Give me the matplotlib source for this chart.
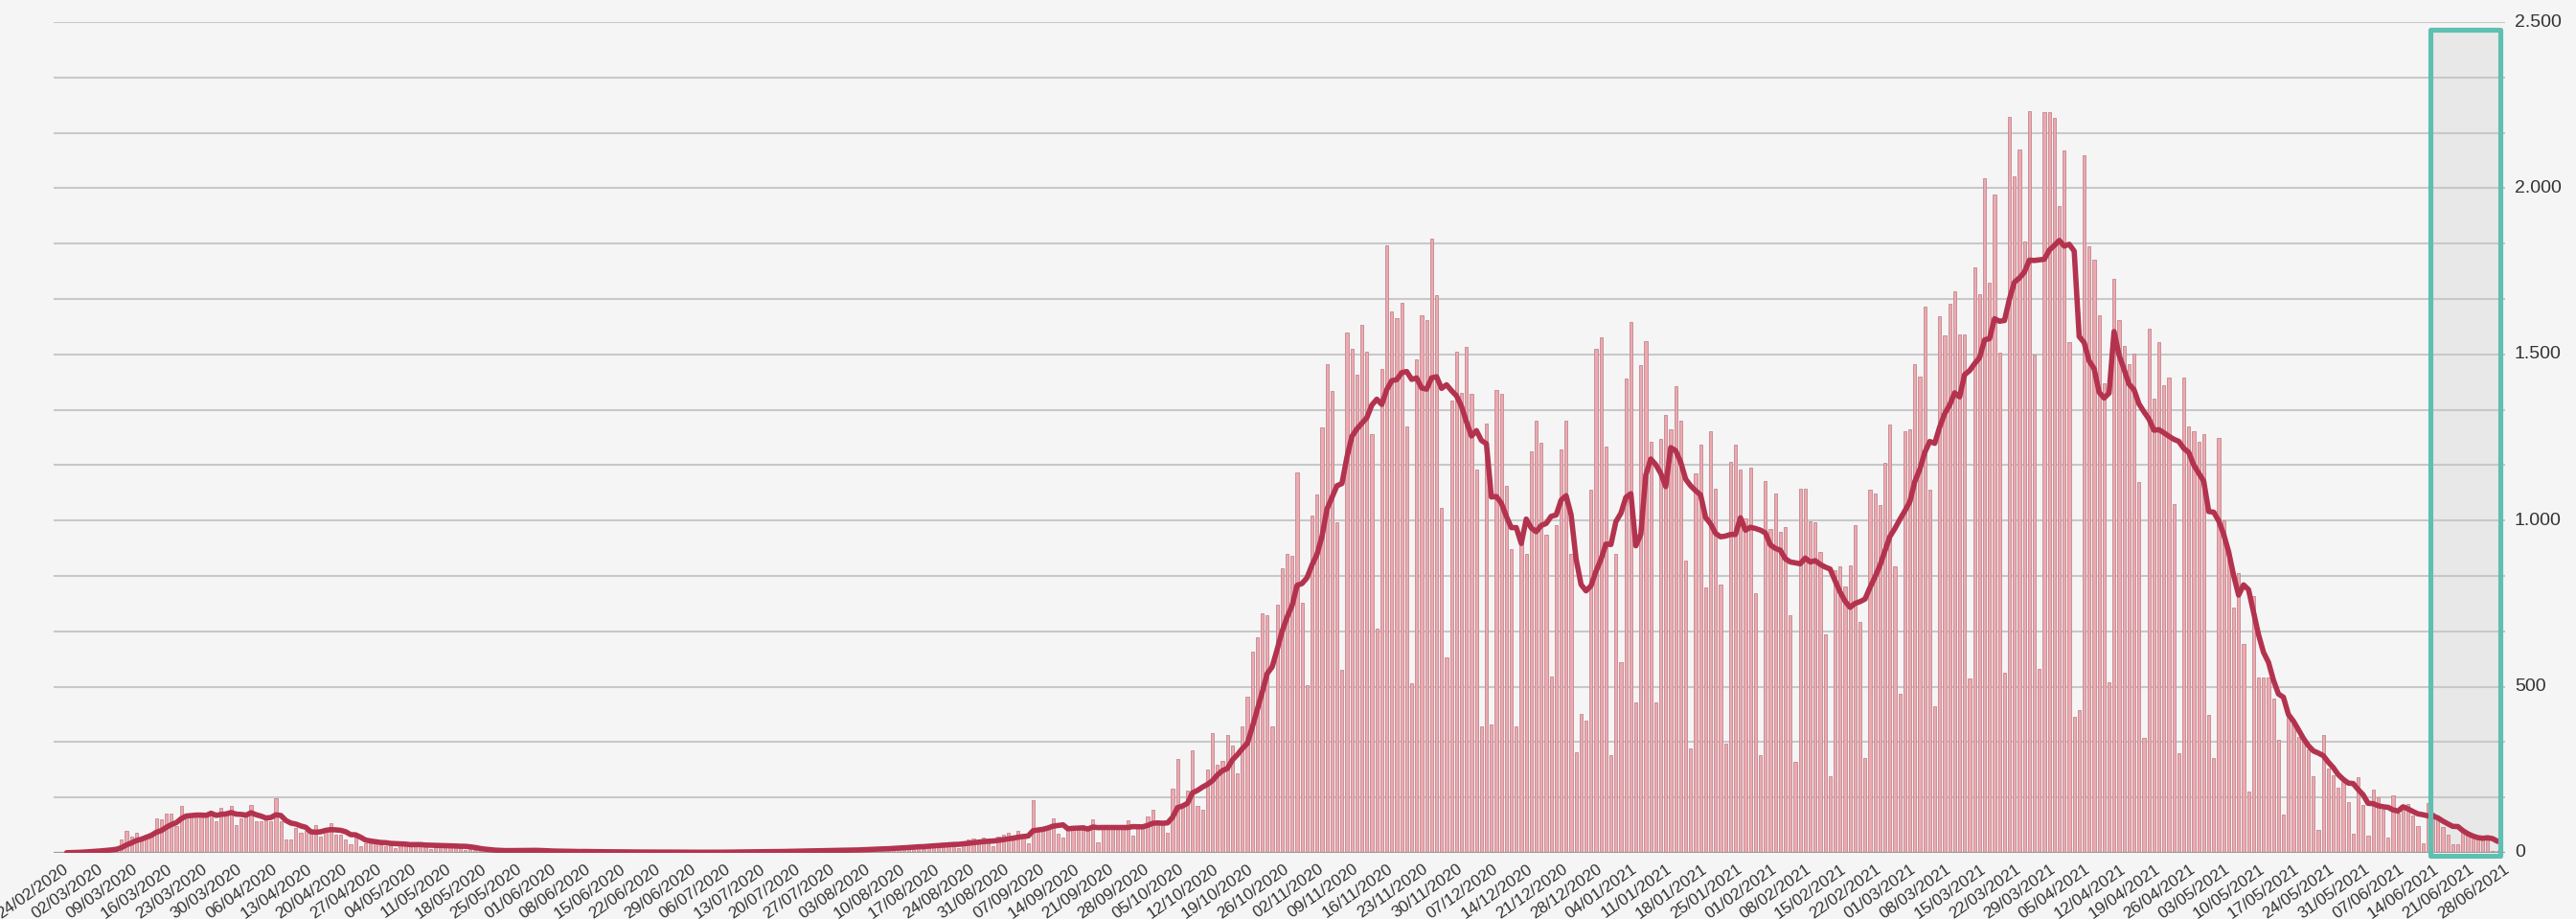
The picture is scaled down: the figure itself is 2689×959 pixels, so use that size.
import numpy as np
import pandas as pd
import matplotlib
matplotlib.use("Agg")
import matplotlib.pyplot as plt
import matplotlib.transforms as mtransforms
from matplotlib.patches import Rectangle

plt.rcParams['font.family'] = ['Liberation Sans', 'DejaVu Sans']

# ---------------- data (daily values, weeks Monday..Sunday) ----------------
start_date = "2020-02-24"

wave1_2020 = [
    [0, 0, 0, 2, 3, 4, 5],
    [6, 8, 7, 10, 12, 15, 18],
    [40, 65, 50, 60, 40, 55, 60],
    [105, 100, 118, 118, 80, 140, 115],
    [115, 110, 118, 112, 125, 95, 135],
    [125, 140, 85, 105, 110, 145, 95],
    [95, 100, 95, 163, 95, 40, 40],
    [75, 60, 65, 70, 85, 50, 70],
    [90, 55, 55, 40, 25, 45, 20],
    [30, 35, 40, 25, 20, 30, 15],
    [25, 30, 28, 25, 22, 20, 12],
    [22, 25, 28, 20, 18, 15, 10],
    [12, 10, 8, 6, 7, 5, 4],
    [8, 10, 9, 8, 7, 6, 5],
]
summer_2020 = [
    [6, 5, 4, 5, 6, 4, 3],
    [3, 4, 5, 3, 4, 3, 2],
    [2, 3, 4, 3, 2, 3, 1],
    [2, 3, 2, 4, 3, 2, 1],
    [1, 2, 3, 2, 3, 2, 1],
    [2, 3, 2, 4, 3, 4, 2],
    [2, 4, 5, 4, 6, 5, 3],
    [3, 6, 7, 8, 6, 9, 5],
    [4, 8, 9, 10, 8, 11, 7],
    [5, 12, 14, 15, 13, 16, 10],
    [8, 18, 20, 22, 19, 24, 17],
    [12, 25, 28, 30, 27, 33, 22],
    [15, 35, 40, 42, 38, 45, 30],
    [20, 48, 55, 60, 52, 65, 45],
    [30, 160, 70, 75, 80, 103, 58],
    [45, 77, 80, 78, 85, 80, 100],
    [32, 80, 80, 78, 85, 82, 97],
    [51, 77, 78, 109, 129, 90, 90],
]
autumn_2020 = [
    [60, 193, 283, 142, 187, 309, 142],
    [129, 251, 360, 264, 277, 354, 322],
    [238, 380, 470, 605, 650, 720, 714],
    [380, 746, 856, 901, 894, 1145, 752],
    [504, 1014, 1079, 1279, 1470, 1390, 996],
    [552, 1566, 1518, 1438, 1590, 1507, 1261],
    [676, 1456, 1829, 1628, 1610, 1656, 1283],
    [511, 1486, 1617, 1604, 1849, 1679, 1038],
    [587, 1362, 1508, 1383, 1522, 1380, 1152],
    [380, 1293, 386, 1394, 1380, 1104, 914],
    [380, 959, 900, 1208, 1300, 1235, 956],
    [531, 987, 1214, 1300, 900, 304, 417],
]
winter_2021 = [
    [397, 1094, 1518, 1552, 1224, 293, 900],
    [573, 1428, 1597, 453, 1467, 1541, 1238],
    [453, 1246, 1317, 1274, 1403, 1300, 879],
    [313, 1143, 1228, 800, 1270, 1097, 807],
    [328, 1177, 1228, 1152, 1007, 1159, 782],
    [293, 1118, 976, 1080, 966, 981, 714],
    [275, 1097, 1097, 997, 994, 904, 657],
    [232, 850, 861, 803, 865, 986, 695],
    [286, 1092, 1082, 1046, 1174, 1290, 861],
    [479, 1270, 1275, 1472, 1432, 1645, 1092],
    [440, 1615, 1556, 1653, 1689, 1560, 1560],
    [525, 1761, 1681, 2029, 1715, 1981, 1506],
    [541, 2214, 2035, 2117, 1839, 2233, 1499],
]
spring_2021 = [
    [553, 2228, 2228, 2212, 1947, 2114, 1537],
    [409, 430, 2098, 1826, 1784, 1619, 1414],
    [513, 1727, 1604, 1526, 1471, 1502, 1115],
    [346, 1576, 1367, 1537, 1406, 1429, 1051],
    [301, 1429, 1282, 1270, 1236, 1259, 414],
    [286, 1248, 1000, 900, 739, 842, 630],
    [185, 773, 528, 528, 528, 465, 341],
    [115, 410, 388, 350, 344, 311, 231],
    [69, 355, 253, 234, 196, 212, 152],
    [58, 229, 143, 53, 190, 168, 130],
    [47, 174, 119, 143, 146, 113, 80],
    [29, 150, 120, 99, 79, 55, 26],
    [26, 65, 55, 50, 45, 40, 38],
    [7, 7],
]

highlight_start = "2021-06-16"
highlight_end = "2021-06-29"

y_ticks = [0, 500, 1000, 1500, 2000, 2500]

# ---------------- prepare ----------------
values = [v for block in (wave1_2020, summer_2020, autumn_2020, winter_2021, spring_2021)
          for week in block for v in week]
dates = pd.date_range(start_date, periods=len(values), freq="D")
x = np.arange(len(values))
avg7 = pd.Series(values, dtype=float).rolling(7, min_periods=1).mean().to_numpy()

W, H, DPI = 2689, 959, 100
fig = plt.figure(figsize=(W / DPI, H / DPI), dpi=DPI, facecolor="#f5f5f5")
left_px, right_px, top_px, bottom_px = 56, 2615, 23, 890
ax = fig.add_axes([left_px / W, 1 - bottom_px / H, (right_px - left_px) / W, (bottom_px - top_px) / H])
ax.set_facecolor("#f5f5f5")

px_per_day = 5.2
x0_px = 54.0
ax.set_xlim((left_px - x0_px) / px_per_day, (right_px - x0_px) / px_per_day)
ax.set_ylim(0, 2500)

for s in ax.spines.values():
    s.set_visible(False)
ax.set_xticks([])
ax.set_yticks([])

# grid lines every 500/3
for k in range(1, 16):
    ax.axhline(k * 2500 / 15, color="#c8c8c8", lw=1.5, zorder=1)

# highlight box fill
hs = (pd.Timestamp(highlight_start) - dates[0]).days - 0.5
he = (pd.Timestamp(highlight_end) - dates[0]).days + 0.6
ax.add_patch(Rectangle((hs, -9), he - hs, 2486, facecolor="#e8e8e8", edgecolor="none", zorder=0.5))

# bars
ax.bar(x, values, width=0.62, color="#eca9b0", edgecolor="#c4868e", linewidth=0.6, zorder=2)

# baseline
ax.axhline(0, color="#9a9a9a", lw=1.6, zorder=3)

# 7-day average line
first = 3
ax.plot(x[first:], avg7[first:], color="#b3334e", lw=4.0, solid_capstyle="round",
        solid_joinstyle="round", zorder=4)

# highlight box edge
ax.add_patch(Rectangle((hs, -9), he - hs, 2486, facecolor="none", edgecolor="#5fbfb1",
                       lw=3.7, joinstyle="round", zorder=5, clip_on=False))

# y labels on the right
ylab_tr = mtransforms.blended_transform_factory(ax.transAxes, ax.transData) + \
    mtransforms.ScaledTranslation(10 / DPI, 0, fig.dpi_scale_trans)
for v in y_ticks:
    ax.text(1.0, v, f"{v:,}".replace(",", "."), transform=ylab_tr, ha="left", va="center",
            fontsize=14, color="#333333", clip_on=False)

# x labels (weekly, Mondays)
xlab_tr = mtransforms.blended_transform_factory(ax.transData, ax.transAxes) + \
    mtransforms.ScaledTranslation(11 / DPI, -9 / DPI, fig.dpi_scale_trans)
tick_idx = list(range(0, len(values), 7))
for i in tick_idx:
    ax.text(i, 0, dates[i].strftime("%d/%m/%Y"), transform=xlab_tr, rotation=35,
            rotation_mode="anchor", ha="right", va="top", fontsize=12.5, color="#333333",
            clip_on=False)

fig.savefig("out.png", dpi=DPI, facecolor=fig.get_facecolor())
